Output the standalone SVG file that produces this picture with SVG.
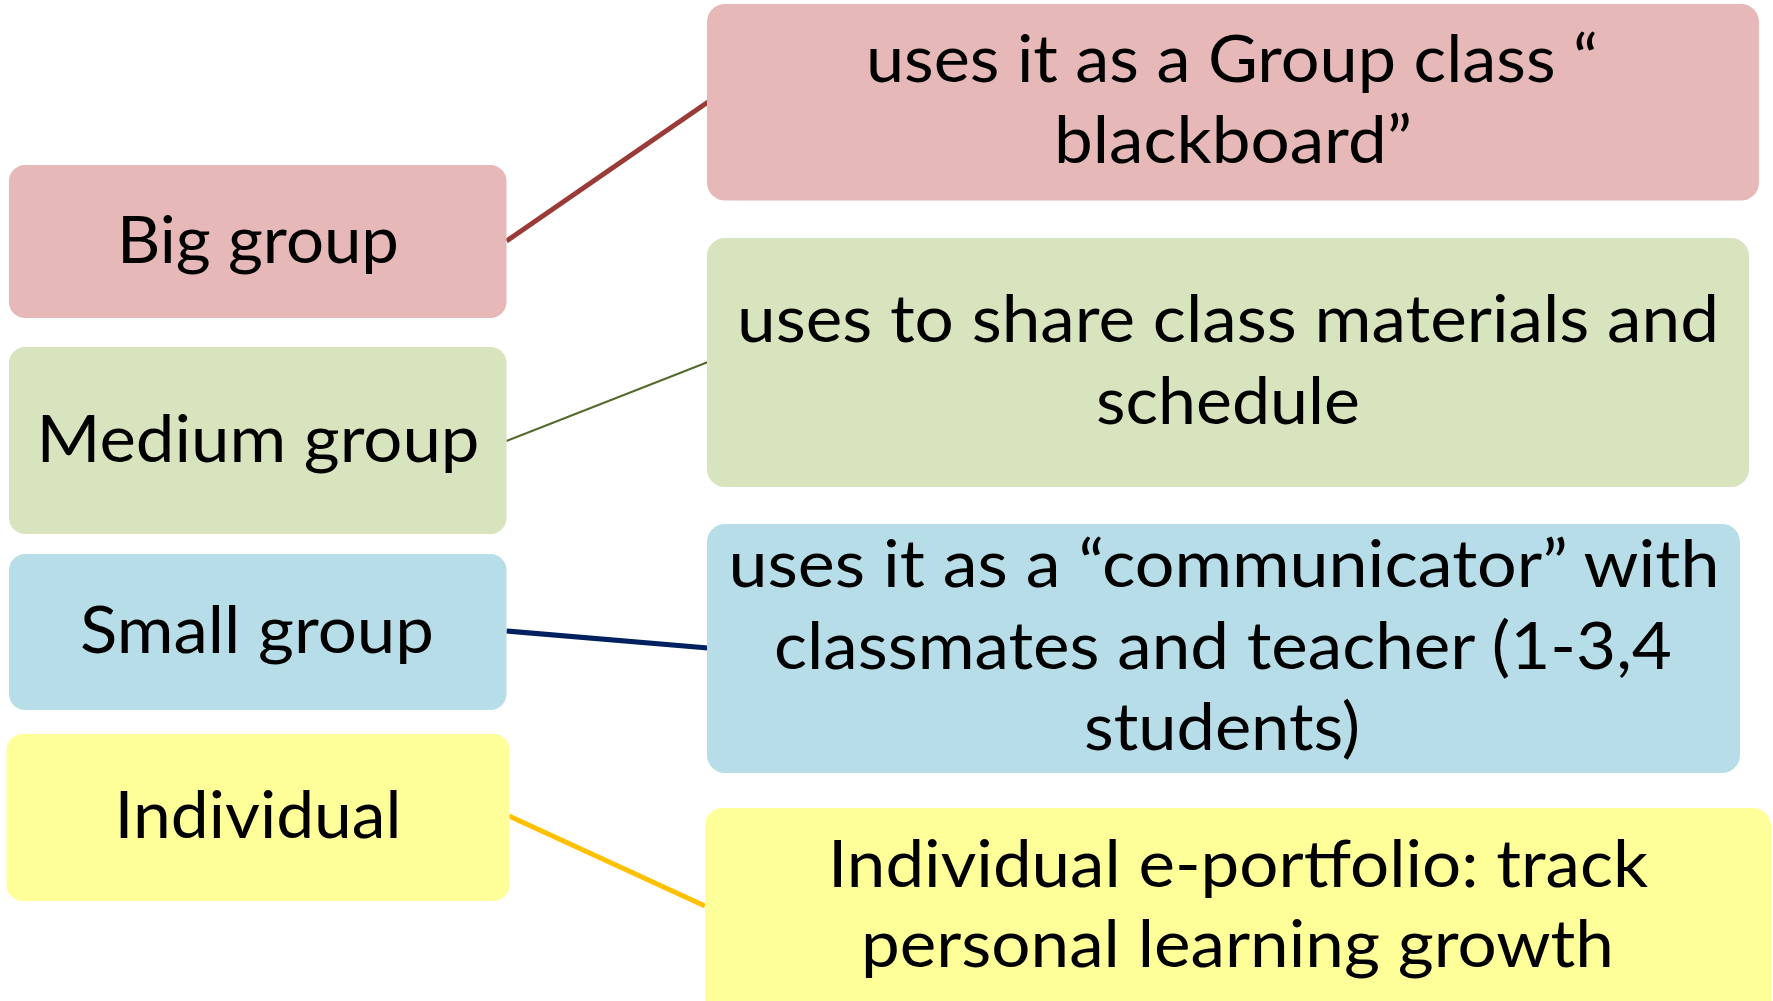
<svg xmlns="http://www.w3.org/2000/svg" width="1773" height="1001" viewBox="0 0 1773 1001">
  <style>
    text { font-family: Lato, "Open Sans", "Liberation Sans", sans-serif; font-size: 66px; fill: #000; text-anchor: middle; }
    .pink { fill: #E6B8B7; }
    .green { fill: #D7E4BD; }
    .blue { fill: #B7DEE8; }
    .yellow { fill: #FFFF99; }
    .conn { fill: none; stroke-linecap: butt; }
  </style>

  <!-- connectors between category boxes and their descriptions -->
  <g id="connectors">
    <line class="conn" x1="506.5" y1="241" x2="708" y2="102" stroke="#9A3B37" stroke-width="5"/>
    <line class="conn" x1="506.5" y1="441" x2="708" y2="362" stroke="#546A2C" stroke-width="2"/>
    <line class="conn" x1="506.5" y1="631" x2="708" y2="648" stroke="#002060" stroke-width="5"/>
    <line class="conn" x1="509" y1="816" x2="705" y2="906" stroke="#FFC000" stroke-width="5"/>
  </g>

  <!-- left column: group sizes -->
  <g id="big-group">
    <rect class="pink" x="9" y="165" width="497.5" height="153" rx="16"/>
    <text x="258" y="263" textLength="282" lengthAdjust="spacingAndGlyphs">Big group</text>
  </g>
  <g id="medium-group">
    <rect class="green" x="9" y="347" width="497.5" height="187" rx="16"/>
    <text x="258" y="462" textLength="443" lengthAdjust="spacingAndGlyphs">Medium group</text>
  </g>
  <g id="small-group">
    <rect class="blue" x="9" y="554" width="497.5" height="156" rx="16"/>
    <text x="257" y="653" textLength="354" lengthAdjust="spacingAndGlyphs">Small group</text>
  </g>
  <g id="individual">
    <rect class="yellow" x="6.5" y="734" width="503" height="167" rx="16"/>
    <text x="258" y="838" textLength="287" lengthAdjust="spacingAndGlyphs">Individual</text>
  </g>

  <!-- right column: how each group uses it -->
  <g id="group-blackboard">
    <rect class="pink" x="707" y="4" width="1052" height="196.5" rx="18"/>
    <text x="1232" y="82" textLength="732" lengthAdjust="spacingAndGlyphs">uses it as a Group class “</text>
    <text x="1233" y="163" textLength="358" lengthAdjust="spacingAndGlyphs">blackboard”</text>
  </g>
  <g id="share-materials">
    <rect class="green" x="707" y="238" width="1042" height="249" rx="18"/>
    <text x="1228" y="342" textLength="982" lengthAdjust="spacingAndGlyphs">uses to share class materials and</text>
    <text x="1228" y="424" textLength="264" lengthAdjust="spacingAndGlyphs">schedule</text>
  </g>
  <g id="communicator">
    <rect class="blue" x="707" y="524" width="1033" height="249" rx="18"/>
    <text x="1224" y="587" textLength="991" lengthAdjust="spacingAndGlyphs">uses it as a “communicator” with</text>
    <text x="1223" y="669" textLength="898" lengthAdjust="spacingAndGlyphs">classmates and teacher (1-3,4</text>
    <text x="1222" y="750" textLength="276" lengthAdjust="spacingAndGlyphs">students)</text>
  </g>
  <g id="e-portfolio">
    <rect class="yellow" x="705" y="808" width="1066" height="215" rx="18"/>
    <text x="1238" y="887" textLength="820" lengthAdjust="spacingAndGlyphs">Individual e-portfolio: track</text>
    <text x="1237.5" y="967" textLength="753" lengthAdjust="spacingAndGlyphs">personal learning growth</text>
  </g>
</svg>
